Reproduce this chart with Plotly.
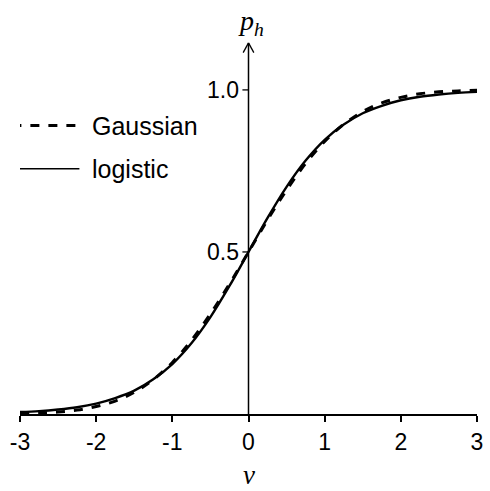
import plotly.graph_objects as go

# stimulus values v and response probabilities p_h for the two link functions
v = [-3.0, -2.75, -2.5, -2.25, -2.0, -1.75, -1.5, -1.25, -1.0, -0.75, -0.5, -0.25,
     0.0, 0.25, 0.5, 0.75, 1.0, 1.25, 1.5, 1.75, 2.0, 2.25, 2.5, 2.75, 3.0]
p_gaussian = [0.001, 0.003, 0.006, 0.012, 0.023, 0.040, 0.067, 0.106, 0.159, 0.227, 0.309, 0.401,
              0.500, 0.599, 0.691, 0.773, 0.841, 0.894, 0.933, 0.960, 0.977, 0.988, 0.994, 0.997, 0.999]
p_logistic = [0.006, 0.009, 0.014, 0.021, 0.032, 0.049, 0.072, 0.107, 0.154, 0.218, 0.299, 0.395,
              0.500, 0.605, 0.701, 0.782, 0.846, 0.893, 0.928, 0.951, 0.968, 0.979, 0.986, 0.991, 0.994]

x_ticks = [-3, -2, -1, 0, 1, 2, 3]
y_ticks = [0.5, 1.0]
y_ticklabels = ["0.5", "1.0"]
series_names = ["Gaussian", "logistic"]

Y_TOP = 1.145  # tip of the vertical arrow
SANS = "Liberation Sans, Arial, sans-serif"
SERIF = "Liberation Serif, Times New Roman, serif"

fig = go.Figure()
fig.add_trace(go.Scatter(x=v, y=p_gaussian, mode="lines", name=series_names[0],
                         line=dict(color="black", width=3, dash="dash", shape="spline"),
                         showlegend=False))
fig.add_trace(go.Scatter(x=v, y=p_logistic, mode="lines", name=series_names[1],
                         line=dict(color="black", width=2.4, shape="spline"),
                         showlegend=False))

shapes = []
# vertical axis through v = 0 with an open arrowhead
shapes.append(dict(type="line", xref="x", yref="y", x0=0, x1=0, y0=0, y1=Y_TOP,
                   line=dict(color="black", width=1.5)))
shapes.append(dict(type="line", xref="x", yref="y", x0=-0.07, x1=0, y0=Y_TOP - 0.03, y1=Y_TOP,
                   line=dict(color="black", width=1.3)))
shapes.append(dict(type="line", xref="x", yref="y", x0=0.07, x1=0, y0=Y_TOP - 0.03, y1=Y_TOP,
                   line=dict(color="black", width=1.3)))
# y tick marks on the left of the vertical axis
for yt in y_ticks:
    shapes.append(dict(type="line", xref="x", yref="y", x0=-0.08, x1=0, y0=yt, y1=yt,
                       line=dict(color="black", width=1.3)))

# legend samples
leg_y = [0.89, 0.757]
shapes.append(dict(type="line", xref="x", yref="y", x0=-3.1, x1=-2.22, y0=leg_y[0], y1=leg_y[0],
                   line=dict(color="black", width=3, dash="dash")))
shapes.append(dict(type="line", xref="x", yref="y", x0=-3.1, x1=-2.22, y0=leg_y[1], y1=leg_y[1],
                   line=dict(color="black", width=1.5)))

annotations = []
for name, yy in zip(series_names, leg_y):
    annotations.append(dict(x=-2.08, y=yy, xref="x", yref="y", text=name, showarrow=False,
                            xanchor="left", yanchor="middle",
                            font=dict(family=SANS, size=25, color="black")))
for yt, lab in zip(y_ticks, y_ticklabels):
    annotations.append(dict(x=-0.1, y=yt, xref="x", yref="y", text=lab, showarrow=False,
                            xanchor="right", yanchor="middle",
                            font=dict(family=SANS, size=23, color="black")))
# axis titles
annotations.append(dict(x=0.03, y=1.0, xref="x", yref="paper", text="<i>p</i><sub><i>h</i></sub>",
                        showarrow=False, xanchor="center", yanchor="bottom", yshift=-2,
                        font=dict(family=SERIF, size=28, color="black")))
annotations.append(dict(x=0, y=0, xref="x", yref="paper", text="<i>v</i>",
                        showarrow=False, xanchor="center", yanchor="top", yshift=-44,
                        font=dict(family=SERIF, size=27, color="black")))

fig.update_layout(
    width=490, height=491,
    margin=dict(l=20, r=7, t=40, b=77),
    paper_bgcolor="white", plot_bgcolor="white",
    shapes=shapes, annotations=annotations,
    xaxis=dict(range=[-3, 3], tickvals=x_ticks, ticktext=[str(t) for t in x_ticks],
               showgrid=False, zeroline=False, showline=True, linecolor="black", linewidth=2,
               ticks="outside", ticklen=6, tickwidth=2, tickcolor="black",
               tickfont=dict(family=SANS, size=23, color="black")),
    yaxis=dict(range=[0, 1.154], showgrid=False, zeroline=False, showline=False,
               showticklabels=False, ticks=""),
)

fig.write_html("out.html")
